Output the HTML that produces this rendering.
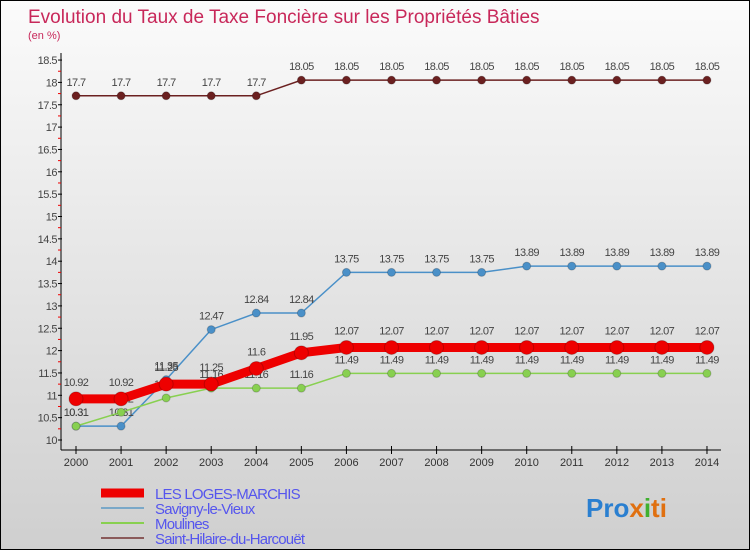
<!DOCTYPE html>
<html><head><meta charset="utf-8"><style>
body{margin:0;width:750px;height:550px;overflow:hidden;font-family:"Liberation Sans",sans-serif}
#wrap{position:relative;width:748px;height:548px;border:1px solid #000;background:linear-gradient(#fbfbfb,#cfcfcf)}
</style></head><body>
<div id="wrap">
<svg id="chart" width="748" height="548" xmlns="http://www.w3.org/2000/svg">
<text x="27" y="22" font-size="19" fill="#c8285a">Evolution du Taux de Taxe Foncière sur les Propriétés Bâties</text>
<text x="27" y="38" font-size="11" fill="#c8285a">(en %)</text>
<g id="axes"></g><g id="series"></g><g id="legend"></g>
<text x="585" y="516" font-size="26" font-weight="bold" fill="#2a7fd0">Pro<tspan fill="#e07010">x</tspan><tspan fill="#40b030">i</tspan><tspan fill="#e07010">ti</tspan></text>
</svg></div>
<script>
const years=[2000,2001,2002,2003,2004,2005,2006,2007,2008,2009,2010,2011,2012,2013,2014];
const yTicks=[10,10.5,11,11.5,12,12.5,13,13.5,14,14.5,15,15.5,16,16.5,17,17.5,18,18.5];
const loges=[10.92,10.92,11.25,11.25,11.6,11.95,12.07,12.07,12.07,12.07,12.07,12.07,12.07,12.07,12.07];
const savigny=[10.31,10.31,11.35,12.47,12.84,12.84,13.75,13.75,13.75,13.75,13.89,13.89,13.89,13.89,13.89];
const moulines=[10.31,10.62,10.94,11.16,11.16,11.16,11.49,11.49,11.49,11.49,11.49,11.49,11.49,11.49,11.49];
const hilaire=[17.7,17.7,17.7,17.7,17.7,18.05,18.05,18.05,18.05,18.05,18.05,18.05,18.05,18.05,18.05];
const seriesNames=["LES LOGES-MARCHIS","Savigny-le-Vieux","Moulines","Saint-Hilaire-du-Harcouët"];
const NS="http://www.w3.org/2000/svg";
const X=i=>75+i*45.07, Y=v=>439-(v-10)*44.7;
function mk(p,t,a){const e=document.createElementNS(NS,t);for(const k in a)e.setAttribute(k,a[k]);p.appendChild(e);return e;}
const ax=document.getElementById('axes');
let l=mk(ax,'line',{x1:60,y1:52,x2:60,y2:449,stroke:'#000'});

l=mk(ax,'line',{x1:60,y1:449,x2:720,y2:449,stroke:'#000'});

yTicks.forEach((v,i)=>{mk(ax,'line',{x1:57,y1:Y(v),x2:61,y2:Y(v),stroke:'#000'});
 if(i<yTicks.length-1)mk(ax,'line',{x1:57,y1:Y(v+0.25),x2:60,y2:Y(v+0.25),stroke:'#e00'});
 const t=mk(ax,'text',{x:56,y:Y(v)+4,'font-size':11,fill:'#444','text-anchor':'end','letter-spacing':'-0.5'});t.textContent=v;
 });
years.forEach((y,i)=>{mk(ax,'line',{x1:X(i),y1:445,x2:X(i),y2:453,stroke:'#000'});
 const t=mk(ax,'text',{x:X(i),y:465,'font-size':11,fill:'#333','text-anchor':'middle'});t.textContent=y;
 });
const sg=document.getElementById('series');
function draw(vals,color,w,r,name,lbl){
 const g=mk(sg,'g',{});
 mk(g,'polyline',{points:vals.map((v,i)=>X(i)+','+Y(v)).join(' '),fill:'none',stroke:color,'stroke-width':w});
 vals.forEach((v,i)=>{const c=mk(g,'circle',{cx:X(i),cy:Y(v),r:r,fill:color,stroke:'#0003'});
  
  const t=mk(g,'text',{x:X(i),y:Y(v)-(r+6),'font-size':11,fill:'#444','text-anchor':'middle','letter-spacing':'-0.6'});t.textContent=v;
  });
}
draw(hilaire,'#6b2020',1.5,4,'series-saint-hilaire');
draw(savigny,'#4a90c8',1.5,4,'series-savigny');
draw(moulines,'#88d050',1.5,4,'series-moulines');
draw(loges,'#ee0000',9,7,'series-loges-marchis');
const lg=document.getElementById('legend');
const lc=['#ee0000','#7aa8c8','#88d050','#8a5a5a'],lw=[9,2,2,2];
seriesNames.forEach((n,i)=>{const g=mk(lg,'g',{});
 
 const y=492+i*15;mk(g,'line',{x1:100,y1:y,x2:143,y2:y,stroke:lc[i],'stroke-width':lw[i]});
 const t=mk(g,'text',{x:154,y:y+6,'font-size':15,fill:'#5555ee','letter-spacing':'-0.8'});t.textContent=n;});
</script></body></html>
